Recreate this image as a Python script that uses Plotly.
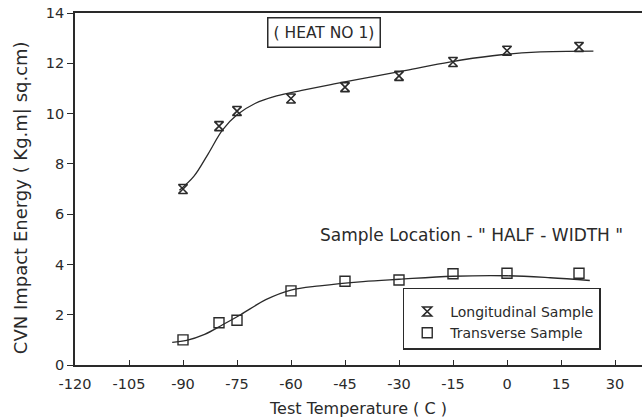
import plotly.graph_objects as go

# ---- data ----
temp_long = [-90, -80, -75, -60, -45, -30, -15, 0, 20]
energy_long = [7.0, 9.5, 10.1, 10.6, 11.05, 11.5, 12.05, 12.5, 12.65]

temp_trans = [-90, -80, -75, -60, -45, -30, -15, 0, 20]
energy_trans = [1.0, 1.68, 1.78, 2.95, 3.33, 3.38, 3.63, 3.65, 3.65]

# hand-drawn fitted curves
curve_long_x = [-91, -87, -83, -79, -75, -70, -64, -57, -48, -38, -28, -16, -4, 8, 24]
curve_long_y = [6.95, 7.5, 8.4, 9.35, 9.95, 10.4, 10.7, 10.92, 11.18, 11.45, 11.72, 12.05, 12.3, 12.44, 12.48]

curve_trans_x = [-93, -89, -84, -79, -74, -67, -60, -52, -40, -30, -15, 0, 12, 23]
curve_trans_y = [0.9, 0.98, 1.22, 1.6, 2.0, 2.6, 2.98, 3.15, 3.32, 3.41, 3.53, 3.55, 3.47, 3.36]

x_ticks = [-120, -105, -90, -75, -60, -45, -30, -15, 0, 15, 30]
x_tick_labels = ["-120", "-105", "-90", "-75", "-60", "-45", "-30", "-15", "0", "15", "30"]
y_ticks = [0, 2, 4, 6, 8, 10, 12, 14]

INK = "#2a2a2a"
FONT = "DejaVu Sans"

fig = go.Figure()
fig.add_trace(go.Scatter(x=curve_long_x, y=curve_long_y, mode="lines",
                         line=dict(color=INK, width=1.3, shape="spline", smoothing=1.0),
                         showlegend=False, hoverinfo="skip"))
fig.add_trace(go.Scatter(x=curve_trans_x, y=curve_trans_y, mode="lines",
                         line=dict(color=INK, width=1.3, shape="spline", smoothing=1.0),
                         showlegend=False, hoverinfo="skip"))
fig.add_trace(go.Scatter(x=temp_long, y=energy_long, mode="markers",
                         name="Longitudinal Sample", legendgroup="a",
                         marker=dict(symbol="hourglass-open", size=9, color=INK,
                                     line=dict(width=1.6, color=INK))))
fig.add_trace(go.Scatter(x=temp_trans, y=energy_trans, mode="markers",
                         name="Transverse Sample", legendgroup="b",
                         marker=dict(symbol="square-open", size=10, color=INK,
                                     line=dict(width=1.4, color=INK))))

fig.update_layout(
    width=642, height=418,
    margin=dict(l=75, r=0, t=13, b=53),
    paper_bgcolor="white", plot_bgcolor="white",
    font=dict(family=FONT, size=14, color=INK),
    showlegend=True,
    legend=dict(x=0.578, y=0.219, xanchor="left", yanchor="top",
                bordercolor=INK, borderwidth=1.5, bgcolor="white",
                font=dict(size=14, color=INK), entrywidth=216, itemwidth=36,
                tracegroupgap=0,
                title=dict(text=" ", font=dict(size=5))),
    annotations=[
        dict(x=0.44, y=0.946, xref="paper", yref="paper", text="( HEAT NO 1)",
             xanchor="center", yanchor="middle",
             showarrow=False, font=dict(size=15.5, color=INK),
             bordercolor=INK, borderwidth=1.5, borderpad=5, bgcolor="white"),
        dict(x=0.4286, y=0.369, xref="paper", yref="paper", xanchor="left", yanchor="middle",
             text="Sample Location - \" HALF - WIDTH \"",
             showarrow=False, font=dict(size=17, color=INK)),
        dict(x=-0.097, y=0.474, xref="paper", yref="paper", xanchor="center", yanchor="middle",
             text="CVN Impact Energy ( Kg.m| sq.cm)", textangle=-90,
             showarrow=False, font=dict(size=18, color=INK)),
    ],
)
fig.update_xaxes(range=[-120, 37.5], tickvals=x_ticks, ticktext=x_tick_labels,
                 ticks="inside", ticklen=5, tickwidth=1.3, tickcolor=INK,
                 tickfont=dict(size=14.5), ticklabelstandoff=5,
                 showline=True, linecolor=INK, linewidth=1.6, mirror=True,
                 showgrid=False, zeroline=False, automargin=False,
                 title=dict(text="Test Temperature ( C )", font=dict(size=16), standoff=14))
fig.update_yaxes(range=[0, 14], tickvals=y_ticks,
                 ticks="outside", ticklen=6, tickwidth=1.3, tickcolor=INK,
                 tickfont=dict(size=14.5),
                 showline=True, linecolor=INK, linewidth=1.6, mirror=False,
                 showgrid=False, zeroline=False, automargin=False)

fig.write_html("out.html", config={"displayModeBar": False},
               post_script="document.body.style.margin='0';")
